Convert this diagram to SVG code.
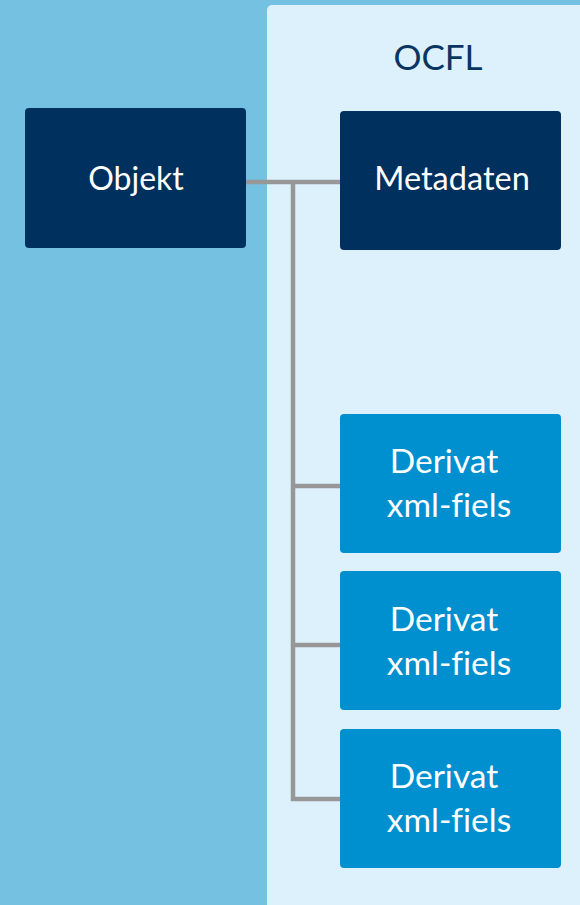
<svg xmlns="http://www.w3.org/2000/svg" width="580" height="905" viewBox="0 0 580 905">
<style>
.t{font-family:Lato,"Open Sans","Liberation Sans",sans-serif;font-size:32px;fill:#ffffff;text-anchor:middle;font-variant-ligatures:none}
.d{font-size:33.5px}
.dark{fill:#00305E}
.blue{fill:#008FCF}
.conn{stroke:#979797;stroke-width:4.5;fill:none}
</style>
<rect x="0" y="0" width="580" height="905" fill="#74C1E1"/>
<g id="ocfl">
<rect x="267" y="5" width="330" height="920" rx="5" fill="#DDF1FC"/>
<text x="438" y="70" style="font-family:Lato,'Open Sans','Liberation Sans',sans-serif;font-size:35px;fill:#0A3561;text-anchor:middle">OCFL</text>
</g>
<g id="connectors">
<path class="conn" d="M246 182 H340 M293 182 V799 H340 M293 486 H340 M293 645 H340"/>
</g>
<g id="objekt">
<rect class="dark" x="25" y="108" width="221" height="140" rx="4"/>
<text class="t" x="136" y="190">Objekt</text>
</g>
<g id="metadaten">
<rect class="dark" x="340" y="111" width="221" height="139" rx="4"/>
<text class="t" x="452" y="190" style="font-size:32.5px">Metadaten</text>
</g>
<g id="derivat1">
<rect class="blue" x="340" y="414" width="221" height="139" rx="4"/>
<text class="t d" x="444" y="473">Derivat</text>
<text class="t d" x="449" y="517">xml-fiels</text>
</g>
<g id="derivat2">
<rect class="blue" x="340" y="571" width="221" height="139" rx="4"/>
<text class="t d" x="444" y="631">Derivat</text>
<text class="t d" x="449" y="675">xml-fiels</text>
</g>
<g id="derivat3">
<rect class="blue" x="340" y="729" width="221" height="139" rx="4"/>
<text class="t d" x="444" y="788">Derivat</text>
<text class="t d" x="449" y="832">xml-fiels</text>
</g>
</svg>
